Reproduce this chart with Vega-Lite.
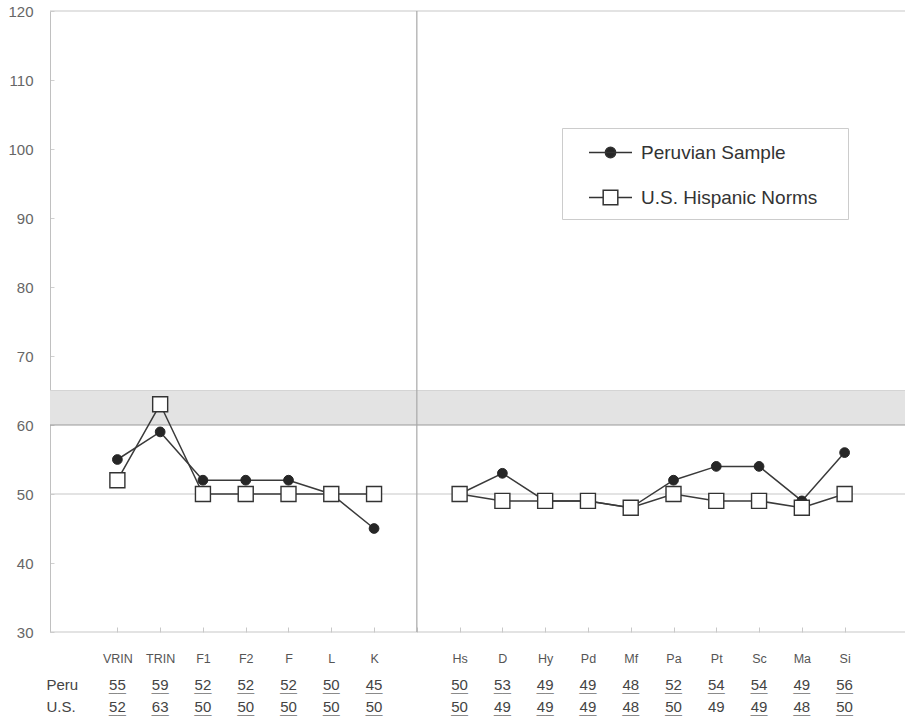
{
  "$schema": "https://vega.github.io/schema/vega-lite/v6.json",
  "autosize": "none",
  "padding": {"left": 50, "top": 11, "right": 0, "bottom": 88},
  "width": 855,
  "height": 621,
  "background": "white",
  "config": {
    "view": {"stroke": null},
    "font": "Liberation Sans",
    "axisX": {"labelFontSize": 12.5, "labelColor": "#555", "labelPadding": 25, "tickSize": -5, "tickColor": "#c8c8c8", "domain": false, "grid": false, "labelAngle": 0},
    "axisY": {"labelFontSize": 15, "labelColor": "#666", "labelPadding": 21, "tickSize": -4, "tickColor": "#d0d0d0", "domainColor": "#c0c0c0", "grid": false}
  },
  "datasets": {
    "scores": [
      {"scale": "VRIN", "group": "Validity", "series": "Peruvian Sample", "value": 55},
      {"scale": "TRIN", "group": "Validity", "series": "Peruvian Sample", "value": 59},
      {"scale": "F1", "group": "Validity", "series": "Peruvian Sample", "value": 52},
      {"scale": "F2", "group": "Validity", "series": "Peruvian Sample", "value": 52},
      {"scale": "F", "group": "Validity", "series": "Peruvian Sample", "value": 52},
      {"scale": "L", "group": "Validity", "series": "Peruvian Sample", "value": 50},
      {"scale": "K", "group": "Validity", "series": "Peruvian Sample", "value": 45},
      {"scale": "Hs", "group": "Clinical", "series": "Peruvian Sample", "value": 50},
      {"scale": "D", "group": "Clinical", "series": "Peruvian Sample", "value": 53},
      {"scale": "Hy", "group": "Clinical", "series": "Peruvian Sample", "value": 49},
      {"scale": "Pd", "group": "Clinical", "series": "Peruvian Sample", "value": 49},
      {"scale": "Mf", "group": "Clinical", "series": "Peruvian Sample", "value": 48},
      {"scale": "Pa", "group": "Clinical", "series": "Peruvian Sample", "value": 52},
      {"scale": "Pt", "group": "Clinical", "series": "Peruvian Sample", "value": 54},
      {"scale": "Sc", "group": "Clinical", "series": "Peruvian Sample", "value": 54},
      {"scale": "Ma", "group": "Clinical", "series": "Peruvian Sample", "value": 49},
      {"scale": "Si", "group": "Clinical", "series": "Peruvian Sample", "value": 56},
      {"scale": "VRIN", "group": "Validity", "series": "U.S. Hispanic Norms", "value": 52},
      {"scale": "TRIN", "group": "Validity", "series": "U.S. Hispanic Norms", "value": 63},
      {"scale": "F1", "group": "Validity", "series": "U.S. Hispanic Norms", "value": 50},
      {"scale": "F2", "group": "Validity", "series": "U.S. Hispanic Norms", "value": 50},
      {"scale": "F", "group": "Validity", "series": "U.S. Hispanic Norms", "value": 50},
      {"scale": "L", "group": "Validity", "series": "U.S. Hispanic Norms", "value": 50},
      {"scale": "K", "group": "Validity", "series": "U.S. Hispanic Norms", "value": 50},
      {"scale": "Hs", "group": "Clinical", "series": "U.S. Hispanic Norms", "value": 50},
      {"scale": "D", "group": "Clinical", "series": "U.S. Hispanic Norms", "value": 49},
      {"scale": "Hy", "group": "Clinical", "series": "U.S. Hispanic Norms", "value": 49},
      {"scale": "Pd", "group": "Clinical", "series": "U.S. Hispanic Norms", "value": 49},
      {"scale": "Mf", "group": "Clinical", "series": "U.S. Hispanic Norms", "value": 48},
      {"scale": "Pa", "group": "Clinical", "series": "U.S. Hispanic Norms", "value": 50},
      {"scale": "Pt", "group": "Clinical", "series": "U.S. Hispanic Norms", "value": 49},
      {"scale": "Sc", "group": "Clinical", "series": "U.S. Hispanic Norms", "value": 49},
      {"scale": "Ma", "group": "Clinical", "series": "U.S. Hispanic Norms", "value": 48},
      {"scale": "Si", "group": "Clinical", "series": "U.S. Hispanic Norms", "value": 50}
    ]
  },
  "layer": [
    {
      "data": {"values": [{"lo": 60, "hi": 65}]},
      "mark": {"type": "rect", "fill": "#e3e3e3"},
      "encoding": {
        "y": {"field": "lo", "type": "quantitative", "title": null, "scale": {"domain": [30, 120], "nice": false, "zero": false}},
        "y2": {"field": "hi"}
      }
    },
    {
      "data": {"values": [{"ref": 65}]},
      "mark": {"type": "rule", "stroke": "#d4d4d4", "strokeWidth": 1},
      "encoding": {"y": {"field": "ref", "type": "quantitative", "title": null, "scale": {"domain": [30, 120], "nice": false, "zero": false}}}
    },
    {
      "data": {"values": [{"ref": 60}]},
      "mark": {"type": "rule", "stroke": "#9a9a9a", "strokeWidth": 1.2},
      "encoding": {"y": {"field": "ref", "type": "quantitative", "title": null, "scale": {"domain": [30, 120], "nice": false, "zero": false}}}
    },
    {
      "data": {"values": [{"ref": 50}]},
      "mark": {"type": "rule", "stroke": "#c8c8c8", "strokeWidth": 1.2},
      "encoding": {"y": {"field": "ref", "type": "quantitative", "title": null, "scale": {"domain": [30, 120], "nice": false, "zero": false}}}
    },
    {
      "data": {"values": [{"ref": 120}, {"ref": 30}]},
      "mark": {"type": "rule", "stroke": "#c8c8c8", "strokeWidth": 1.2},
      "encoding": {"y": {"field": "ref", "type": "quantitative", "title": null, "scale": {"domain": [30, 120], "nice": false, "zero": false}}}
    },
    {
      "data": {"values": [{"divider": " "}]},
      "mark": {"type": "rule", "stroke": "#a8a8a8", "strokeWidth": 1.2},
      "encoding": {
        "x": {"field": "divider", "type": "nominal", "title": null, "scale": {"type": "point", "domain": ["VRIN", "TRIN", "F1", "F2", "F", "L", "K", " ", "Hs", "D", "Hy", "Pd", "Mf", "Pa", "Pt", "Sc", "Ma", "Si"], "range": [46, 816]}}
      }
    },
    {
      "data": {"name": "scores"},
      "mark": {"type": "line", "stroke": "#3a3a3a", "strokeWidth": 1.5},
      "encoding": {
        "x": {"field": "scale", "type": "nominal", "title": null, "sort": null, "scale": {"type": "point", "domain": ["VRIN", "TRIN", "F1", "F2", "F", "L", "K", " ", "Hs", "D", "Hy", "Pd", "Mf", "Pa", "Pt", "Sc", "Ma", "Si"], "range": [46, 816]}, "axis": {"title": null}},
        "y": {"field": "value", "type": "quantitative", "title": null, "scale": {"domain": [30, 120], "nice": false, "zero": false}, "axis": {"title": null, "values": [30, 35, 40, 45, 50, 55, 60, 65, 70, 75, 80, 85, 90, 95, 100, 105, 110, 115, 120], "labelExpr": "datum.value % 10 == 0 ? datum.label : ''"}},
        "detail": [{"field": "series"}, {"field": "group"}],
        "order": {"value": null}
      }
    },
    {
      "data": {"name": "scores"},
      "transform": [{"filter": "datum.series == 'Peruvian Sample'"}],
      "mark": {"type": "point", "shape": "circle", "filled": true, "fill": "#262626", "stroke": "#262626", "strokeWidth": 1, "size": 95, "opacity": 1},
      "encoding": {
        "x": {"field": "scale", "type": "nominal", "title": null},
        "y": {"field": "value", "type": "quantitative", "title": null, "scale": {"domain": [30, 120], "nice": false, "zero": false}}
      }
    },
    {
      "data": {"name": "scores"},
      "transform": [{"filter": "datum.series == 'U.S. Hispanic Norms'"}],
      "mark": {"type": "point", "shape": "square", "filled": true, "fill": "#ffffff", "stroke": "#333333", "strokeWidth": 1.4, "size": 225, "opacity": 1},
      "encoding": {
        "x": {"field": "scale", "type": "nominal", "title": null},
        "y": {"field": "value", "type": "quantitative", "title": null, "scale": {"domain": [30, 120], "nice": false, "zero": false}}
      }
    },
    {
      "data": {"name": "scores"},
      "transform": [{"filter": "false"}],
      "mark": {"type": "point", "filled": true, "strokeWidth": 1.5, "opacity": 1},
      "encoding": {
        "x": {"field": "scale", "type": "nominal", "title": null},
        "y": {"field": "value", "type": "quantitative", "title": null, "scale": {"domain": [30, 120], "nice": false, "zero": false}},
        "shape": {
          "field": "series", "type": "nominal",
          "scale": {"domain": ["Peruvian Sample", "U.S. Hispanic Norms"], "range": ["M-1,0H1M-0.24,0A0.24,0.24,0,1,1,0.24,0A0.24,0.24,0,1,1,-0.24,0Z", "M-1,0H-0.34M0.34,0H1M-0.34,-0.34H0.34V0.34H-0.34Z"]},
          "legend": {"orient": "none", "legendX": 512, "legendY": 117, "title": "\u00a0", "titleOrient": "bottom", "titleFontSize": 6, "titlePadding": 3, "padding": 2, "symbolOffset": 24, "symbolSize": 1849, "symbolStrokeWidth": 1.5, "labelFontSize": 19, "labelColor": "#333333", "labelOffset": 8, "labelLimit": 400, "labelExpr": "datum.label + '\u2800\u2800'", "rowPadding": 12, "strokeColor": "#cccccc", "fillColor": "#ffffff"}
        },
        "fill": {
          "field": "series", "type": "nominal",
          "scale": {"domain": ["Peruvian Sample", "U.S. Hispanic Norms"], "range": ["#262626", "#ffffff"]},
          "legend": {"orient": "none", "legendX": 512, "legendY": 117, "title": "\u00a0", "titleOrient": "bottom", "titleFontSize": 6, "titlePadding": 3, "padding": 2, "symbolOffset": 24, "symbolSize": 1849, "symbolStrokeWidth": 1.5, "labelFontSize": 19, "labelColor": "#333333", "labelOffset": 8, "labelLimit": 400, "labelExpr": "datum.label + '\u2800\u2800'", "rowPadding": 12, "strokeColor": "#cccccc", "fillColor": "#ffffff"}
        },
        "stroke": {
          "field": "series", "type": "nominal",
          "scale": {"domain": ["Peruvian Sample", "U.S. Hispanic Norms"], "range": ["#333333", "#333333"]},
          "legend": {"orient": "none", "legendX": 512, "legendY": 117, "title": "\u00a0", "titleOrient": "bottom", "titleFontSize": 6, "titlePadding": 3, "padding": 2, "symbolOffset": 24, "symbolSize": 1849, "symbolStrokeWidth": 1.5, "labelFontSize": 19, "labelColor": "#333333", "labelOffset": 8, "labelLimit": 400, "labelExpr": "datum.label + '\u2800\u2800'", "rowPadding": 12, "strokeColor": "#cccccc", "fillColor": "#ffffff"}
        }
      }
    },
    {
      "data": {"name": "scores"},
      "transform": [{"filter": "datum.series == 'Peruvian Sample'"}],
      "mark": {"type": "text", "fontSize": 15, "color": "#444444", "baseline": "middle", "align": "center", "dy": 53},
      "encoding": {
        "x": {"field": "scale", "type": "nominal", "title": null},
        "y": {"datum": 30, "type": "quantitative"},
        "text": {"field": "value", "type": "quantitative"}
      }
    },
    {
      "data": {"name": "scores"},
      "transform": [{"filter": "datum.series == 'U.S. Hispanic Norms'"}],
      "mark": {"type": "text", "fontSize": 15, "color": "#444444", "baseline": "middle", "align": "center", "dy": 75},
      "encoding": {
        "x": {"field": "scale", "type": "nominal", "title": null},
        "y": {"datum": 30, "type": "quantitative"},
        "text": {"field": "value", "type": "quantitative"}
      }
    },
    {
      "data": {"name": "scores"},
      "transform": [{"filter": "datum.series == 'Peruvian Sample'"}],
      "mark": {"type": "text", "text": "__", "fontSize": 15, "color": "#8a8a8a", "baseline": "middle", "align": "center", "dy": 54},
      "encoding": {
        "x": {"field": "scale", "type": "nominal", "title": null},
        "y": {"datum": 30, "type": "quantitative"}
      }
    },
    {
      "data": {"name": "scores"},
      "transform": [{"filter": "datum.series == 'U.S. Hispanic Norms' && datum.scale != 'Pt'"}],
      "mark": {"type": "text", "text": "__", "fontSize": 15, "color": "#8a8a8a", "baseline": "middle", "align": "center", "dy": 76},
      "encoding": {
        "x": {"field": "scale", "type": "nominal", "title": null},
        "y": {"datum": 30, "type": "quantitative"}
      }
    },
    {
      "data": {"values": [{"row": "Peru"}]},
      "mark": {"type": "text", "fontSize": 15, "color": "#444444", "baseline": "middle", "align": "left", "dx": -71, "dy": 53},
      "encoding": {
        "x": {"datum": "VRIN", "type": "nominal"},
        "y": {"datum": 30, "type": "quantitative"},
        "text": {"field": "row", "type": "nominal"}
      }
    },
    {
      "data": {"values": [{"row": "U.S."}]},
      "mark": {"type": "text", "fontSize": 15, "color": "#444444", "baseline": "middle", "align": "left", "dx": -71, "dy": 75},
      "encoding": {
        "x": {"datum": "VRIN", "type": "nominal"},
        "y": {"datum": 30, "type": "quantitative"},
        "text": {"field": "row", "type": "nominal"}
      }
    }
  ]
}
